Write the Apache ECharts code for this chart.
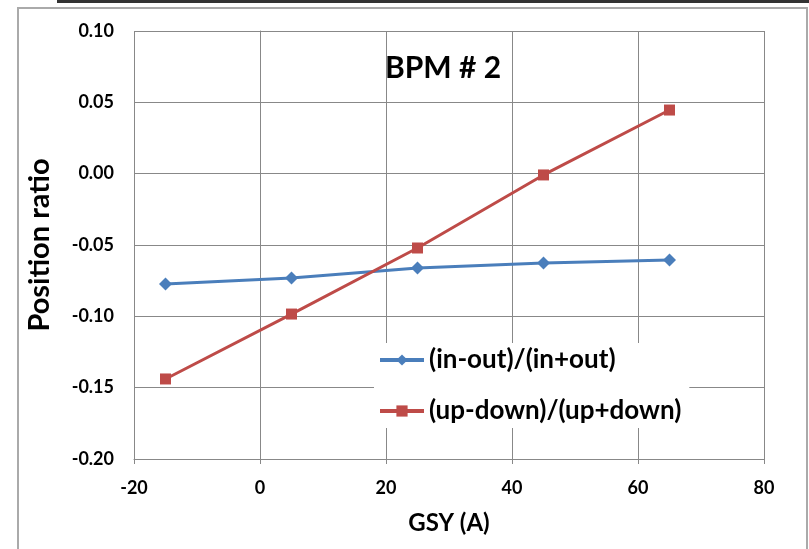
<!DOCTYPE html>
<html>
<head>
<meta charset="utf-8">
<script src="https://cdn.jsdelivr.net/npm/echarts@6/dist/echarts.min.js"></script>
<style>html,body{margin:0;padding:0;background:#fff;}#c{width:809px;height:549px;}</style>
</head>
<body>
<div id="c"></div>
<script>
const gsy = [-15, 5, 25, 45, 65];
const inOut = [-0.0773, -0.0731, -0.0661, -0.0626, -0.0605];
const upDown = [-0.1439, -0.0984, -0.0521, -0.0009, 0.0446];
const seriesNames = ['(in-out)/(in+out)', '(up-down)/(up+down)'];
const chartTitle = 'BPM # 2';
const xName = 'GSY (A)';
const yName = 'Position ratio';

const font = 'Lato, "Open Sans", sans-serif';
const pairs = (xs, ys) => xs.map((x, i) => [x, ys[i]]);

const chart = echarts.init(document.getElementById('c'), null, {renderer: 'canvas'});
chart.setOption({
  animation: false,
  backgroundColor: '#fff',
  title: {
    text: chartTitle, left: 443, top: 53, textAlign: 'center', padding: 0,
    textStyle: {fontFamily: font, fontWeight: 'bold', fontSize: 30, color: '#000'}
  },
  graphic: [
    {type: 'rect', shape: {x: 57, y: 0, width: 760, height: 3}, style: {fill: '#333'}, z: 100},
    {type: 'rect', shape: {x: 18, y: 8, width: 789, height: 560}, style: {fill: 'none', stroke: '#aaa', lineWidth: 2}, z: 100}
  ],
  legend: {
    orient: 'vertical', left: 374, top: 343,
    padding: [4, 8, 4, 4],
    backgroundColor: '#fff',
    itemGap: 25, itemWidth: 44, itemHeight: 14,
    lineStyle: {width: 4},
    textStyle: {fontFamily: font, fontWeight: 'bold', fontSize: 26, color: '#000'},
    data: seriesNames
  },
  grid: {left: 134, right: 45, top: 31, bottom: 90, containLabel: false},
  xAxis: {
    type: 'value', min: -20, max: 80, interval: 20,
    name: xName, nameLocation: 'middle', nameGap: 52,
    nameTextStyle: {fontFamily: font, fontWeight: 'bold', fontSize: 24, color: '#000'},
    axisLine: {show: true, onZero: false, lineStyle: {color: '#888', width: 1}},
    axisTick: {show: true, inside: false, length: 5, lineStyle: {color: '#888'}},
    axisLabel: {fontFamily: font, fontWeight: 'bold', fontSize: 18, color: '#000', margin: 20},
    splitLine: {show: true, lineStyle: {color: '#888', width: 1}}
  },
  yAxis: {
    type: 'value', min: -0.2, max: 0.1, interval: 0.05,
    name: yName, nameLocation: 'middle', nameGap: 80, nameRotate: 90,
    nameTextStyle: {fontFamily: font, fontWeight: 'bold', fontSize: 29, color: '#000'},
    axisLine: {show: true, lineStyle: {color: '#888', width: 1}},
    axisTick: {show: true, inside: false, length: 5, lineStyle: {color: '#888'}},
    axisLabel: {fontFamily: font, fontWeight: 'bold', fontSize: 18, color: '#000', margin: 20,
      formatter: v => v.toFixed(2)},
    splitLine: {show: true, lineStyle: {color: '#888', width: 1}}
  },
  series: [
    {
      name: seriesNames[0], type: 'line', data: pairs(gsy, inOut),
      symbol: 'diamond', symbolSize: 13,
      lineStyle: {color: '#4A7EBB', width: 3},
      itemStyle: {color: '#4A7EBB'}, z: 3
    },
    {
      name: seriesNames[1], type: 'line', data: pairs(gsy, upDown),
      symbol: 'rect', symbolSize: 11,
      lineStyle: {color: '#BE4B48', width: 3},
      itemStyle: {color: '#BE4B48'}, z: 3
    }
  ]
});
</script>
</body>
</html>
